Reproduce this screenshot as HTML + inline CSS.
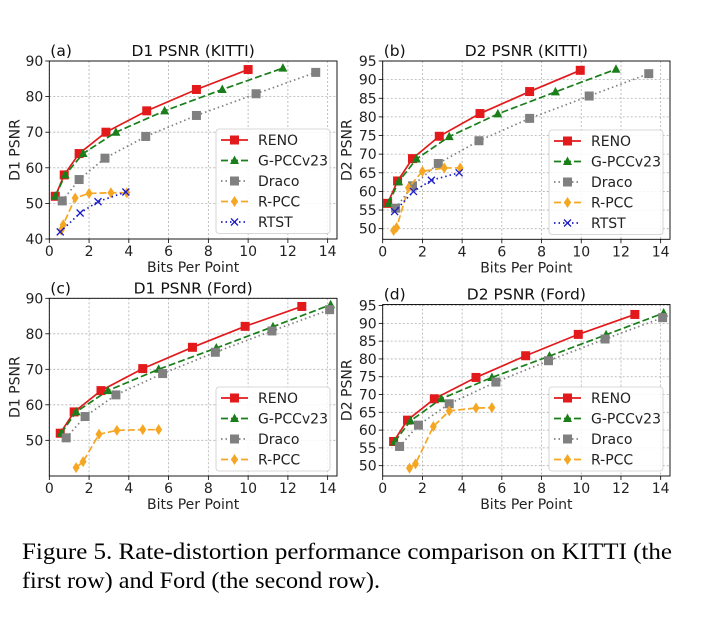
<!DOCTYPE html>
<html><head><meta charset="utf-8"><style>
body{margin:0;background:#fff;width:724px;height:616px;overflow:hidden}
svg text{font-family:"DejaVu Sans","Liberation Sans",sans-serif}
</style></head><body>
<svg id="fig" width="724" height="616" viewBox="0 0 724 616" xmlns="http://www.w3.org/2000/svg">
<text x="22" y="559" font-size="23" style="font-family:'Liberation Serif',serif" textLength="650" lengthAdjust="spacingAndGlyphs">Figure 5.  Rate-distortion performance comparison on KITTI (the</text>
<text x="22" y="588" font-size="23" style="font-family:'Liberation Serif',serif" textLength="358" lengthAdjust="spacingAndGlyphs">first row) and Ford (the second row).</text>
</svg>
<script>
// ---- data ----
const aRenoX=[0.3,0.75,1.5,2.85,4.9,7.4,10];        const aRenoY=[52,58,64,70,76,82,87.6];
const aGpccX=[0.3,0.8,1.7,3.35,5.8,8.7,11.75];      const aGpccY=[52,58,64,70,76,82,88];
const aDracoX=[0.65,1.5,2.8,4.85,7.4,10.4,13.4];    const aDracoY=[50.7,56.7,62.7,68.8,74.7,80.8,86.8];
const aRpccX=[0.6,0.7,1.3,2.0,3.1,3.9];             const aRpccY=[42.5,44,51.5,52.8,53,53];
const aRtstX=[0.55,1.55,2.45,3.85];                 const aRtstY=[42,47.3,50.5,53.2];

const bRenoX=[0.25,0.75,1.5,2.85,4.9,7.4,9.95];     const bRenoY=[56.8,62.8,68.8,74.8,80.9,86.8,92.5];
const bGpccX=[0.3,0.8,1.7,3.35,5.8,8.7,11.75];      const bGpccY=[56.8,62.6,68.7,74.7,80.8,86.7,92.8];
const bDracoX=[0.65,1.5,2.8,4.85,7.4,10.4,13.4];    const bDracoY=[55.5,61.5,67.5,73.6,79.6,85.6,91.6];
const bRpccX=[0.55,0.7,1.3,2.0,3.1,3.9];            const bRpccY=[49.5,50.3,61,65.4,66.3,66.3];
const bRtstX=[0.6,1.55,2.45,3.85];                  const bRtstY=[54.6,60,63,65];

const cRenoX=[0.55,1.25,2.6,4.7,7.2,9.85,12.7];     const cRenoY=[52,58,64,70.2,76.2,82.1,87.7];
const cGpccX=[0.6,1.35,2.95,5.5,8.4,11.25,14.15];   const cGpccY=[52,58,64,70,76,82,88.2];
const cDracoX=[0.85,1.8,3.35,5.7,8.35,11.2,14.1];   const cDracoY=[50.7,56.7,62.8,68.8,74.8,80.8,86.8];
const cRpccX=[1.35,1.7,2.5,3.4,4.7,5.5];            const cRpccY=[42.3,44,51.7,52.8,53,53];

const dRenoX=[0.55,1.25,2.6,4.7,7.2,9.85,12.7];     const dRenoY=[56.8,62.8,68.8,74.8,80.9,86.9,92.5];
const dGpccX=[0.6,1.4,2.95,5.5,8.4,11.25,14.15];    const dGpccY=[56.7,62.6,68.8,74.8,80.8,86.8,92.9];
const dDracoX=[0.85,1.8,3.35,5.7,8.35,11.2,14.1];   const dDracoY=[55.4,61.4,67.4,73.5,79.5,85.6,91.6];
const dRpccX=[1.35,1.65,2.55,3.35,4.7,5.5];         const dRpccY=[49.3,50.5,61,65.4,66.2,66.3];

const xTicks=[0,2,4,6,8,10,12,14];
const yTicksD1=[40,50,60,70,80,90];
const yTicksD1Ford=[50,60,70,80,90];
const yTicksD2=[50,55,60,65,70,75,80,85,90,95];
const seriesNames=["RENO","G-PCCv23","Draco","R-PCC","RTST"];

const NS="http://www.w3.org/2000/svg";
const svg=document.getElementById('fig');
function mk(tag,attrs,parent){const e=document.createElementNS(NS,tag);for(const k in attrs)e.setAttribute(k,attrs[k]);(parent||svg).appendChild(e);return e;}

const styles={
 "RENO":{c:"#e31a1c",dash:"",m:"sq"},
 "G-PCCv23":{c:"#1a7f1a",dash:"7,3",m:"tri"},
 "Draco":{c:"#808080",dash:"1.5,3",m:"sq"},
 "R-PCC":{c:"#f5a623",dash:"7,3",m:"dia"},
 "RTST":{c:"#1c1cc8",dash:"1.5,3",m:"x"}
};
function marker(g,name,x,y){
 const s=styles[name];let e;
 if(s.m==="sq"){e=mk('rect',{x:x-4.5,y:y-4.5,width:9,height:9,fill:s.c},g);}
 else if(s.m==="tri"){e=mk('polygon',{points:`${x},${y-5} ${x-4.5},${y+3.5} ${x+4.5},${y+3.5}`,fill:s.c},g);}
 else if(s.m==="dia"){e=mk('polygon',{points:`${x},${y-5.5} ${x-3.5},${y} ${x},${y+5.5} ${x+3.5},${y}`,fill:s.c},g);}
 else {e=mk('path',{d:`M${x-3.5},${y-3.5}L${x+3.5},${y+3.5}M${x-3.5},${y+3.5}L${x+3.5},${y-3.5}`,stroke:s.c,'stroke-width':1.3},g);}
 
 
}

function panel(p){
 const g=mk('g',{});
 
 
 const X=v=>p.L+(v-p.x0)*(p.R-p.L)/(p.x1-p.x0);
 const Y=v=>p.B-(v-p.y0)*(p.B-p.T)/(p.y1-p.y0);
 xTicks.forEach(t=>{const x=X(t);
  const gl=mk('line',{x1:x,x2:x,y1:p.T,y2:p.B,stroke:'#b0b0b0','stroke-width':0.8,'stroke-dasharray':'2,2'},g);
  
  mk('line',{x1:x,x2:x,y1:p.B,y2:p.B+4,stroke:'#000','stroke-width':0.8},g);
  const tl=mk('text',{x:x,y:p.B+17,'font-size':14,'text-anchor':'middle',fill:'#222'},g);tl.textContent=t;
  
 });
 p.yt.forEach(t=>{const y=Y(t);
  const gl=mk('line',{x1:p.L,x2:p.R,y1:y,y2:y,stroke:'#b0b0b0','stroke-width':0.8,'stroke-dasharray':'2,2'},g);
  
  mk('line',{x1:p.L-4,x2:p.L,y1:y,y2:y,stroke:'#000','stroke-width':0.8},g);
  const tl=mk('text',{x:p.L-6,y:y+5,'font-size':14,'text-anchor':'end',fill:'#222'},g);tl.textContent=t;
  
 });
 p.series.forEach(s=>{
  const st=styles[s.n];
  const pts=s.x.map((v,i)=>X(v)+','+Y(s.y[i])).join(' ');
  const ln=mk('polyline',{points:pts,fill:'none',stroke:st.c,'stroke-width':1.7,'stroke-dasharray':st.dash},g);
  
  
  s.x.forEach((v,i)=>marker(g,s.n,X(v),Y(s.y[i])));
 });
 const fr=mk('rect',{x:p.L,y:p.T,width:p.R-p.L,height:p.B-p.T,fill:'none',stroke:'#000','stroke-width':0.9},g);
 
 const tt=mk('text',{x:(p.L+p.R)/2,y:p.T-5,'font-size':15.5,'text-anchor':'middle',fill:'#111'},g);tt.textContent=p.title;
 
 const lb=mk('text',{x:p.L+1,y:p.T-5,'font-size':15.5,fill:'#111'},g);lb.textContent=p.tag;
 
 const xl=mk('text',{x:(p.L+p.R)/2,y:p.B+33,'font-size':14,'text-anchor':'middle',fill:'#222'},g);xl.textContent='Bits Per Point';
 
 const cy=(p.T+p.B)/2;const ax=p.L-p.yo;
 const yl=mk('text',{x:ax,y:cy,'font-size':14,'text-anchor':'middle',fill:'#222',transform:`rotate(-90 ${ax} ${cy})`},g);yl.textContent=p.ylab;
 
 const lg=mk('g',{},g);
 
 const n=p.series.length;const lx=p.lx,ly=p.ly,lw=114,lh=n*20.5+2;
 mk('rect',{x:lx,y:ly,width:lw,height:lh,rx:3,fill:'#fff','fill-opacity':0.85,stroke:'#ccc','stroke-width':0.8},lg);
 p.series.forEach((s,i)=>{
  const st=styles[s.n];const yy=ly+11+i*20.5;
  const e=mk('g',{},lg);
  
  
  mk('line',{x1:lx+5,x2:lx+32,y1:yy,y2:yy,stroke:st.c,'stroke-width':1.7,'stroke-dasharray':st.dash},e);
  marker(e,s.n,lx+18.5,yy);
  const t=mk('text',{x:lx+42,y:yy+5,'font-size':14,fill:'#222'},e);t.textContent=s.n;
 });
}

panel({id:'a',tag:'(a)',title:'D1 PSNR (KITTI)',ylab:'D1 PSNR',yo:30,L:49.3,R:337,T:61,B:239,x0:0,x1:14.47,y0:40,y1:90,yt:yTicksD1,lx:216,ly:129,
 series:[{n:'RENO',x:aRenoX,y:aRenoY},{n:'G-PCCv23',x:aGpccX,y:aGpccY},{n:'Draco',x:aDracoX,y:aDracoY},{n:'R-PCC',x:aRpccX,y:aRpccY},{n:'RTST',x:aRtstX,y:aRtstY}]});
panel({id:'b',tag:'(b)',title:'D2 PSNR (KITTI)',ylab:'D2 PSNR',yo:31,L:382.7,R:670,T:61,B:239.3,x0:0,x1:14.47,y0:47.15,y1:95,yt:yTicksD2,lx:549,ly:130,
 series:[{n:'RENO',x:bRenoX,y:bRenoY},{n:'G-PCCv23',x:bGpccX,y:bGpccY},{n:'Draco',x:bDracoX,y:bDracoY},{n:'R-PCC',x:bRpccX,y:bRpccY},{n:'RTST',x:bRtstX,y:bRtstY}]});
panel({id:'c',tag:'(c)',title:'D1 PSNR (Ford)',ylab:'D1 PSNR',yo:30,L:49.3,R:337,T:298.3,B:476,x0:0,x1:14.47,y0:39.95,y1:90,yt:yTicksD1Ford,lx:216,ly:387,
 series:[{n:'RENO',x:cRenoX,y:cRenoY},{n:'G-PCCv23',x:cGpccX,y:cGpccY},{n:'Draco',x:cDracoX,y:cDracoY},{n:'R-PCC',x:cRpccX,y:cRpccY}]});
panel({id:'d',tag:'(d)',title:'D2 PSNR (Ford)',ylab:'D2 PSNR',yo:31,L:382.7,R:670,T:304.5,B:476,x0:0,x1:14.47,y0:47.1,y1:95.3,yt:yTicksD2,lx:549,ly:387,
 series:[{n:'RENO',x:dRenoX,y:dRenoY},{n:'G-PCCv23',x:dGpccX,y:dGpccY},{n:'Draco',x:dDracoX,y:dDracoY},{n:'R-PCC',x:dRpccX,y:dRpccY}]});
</script>
</body></html>
